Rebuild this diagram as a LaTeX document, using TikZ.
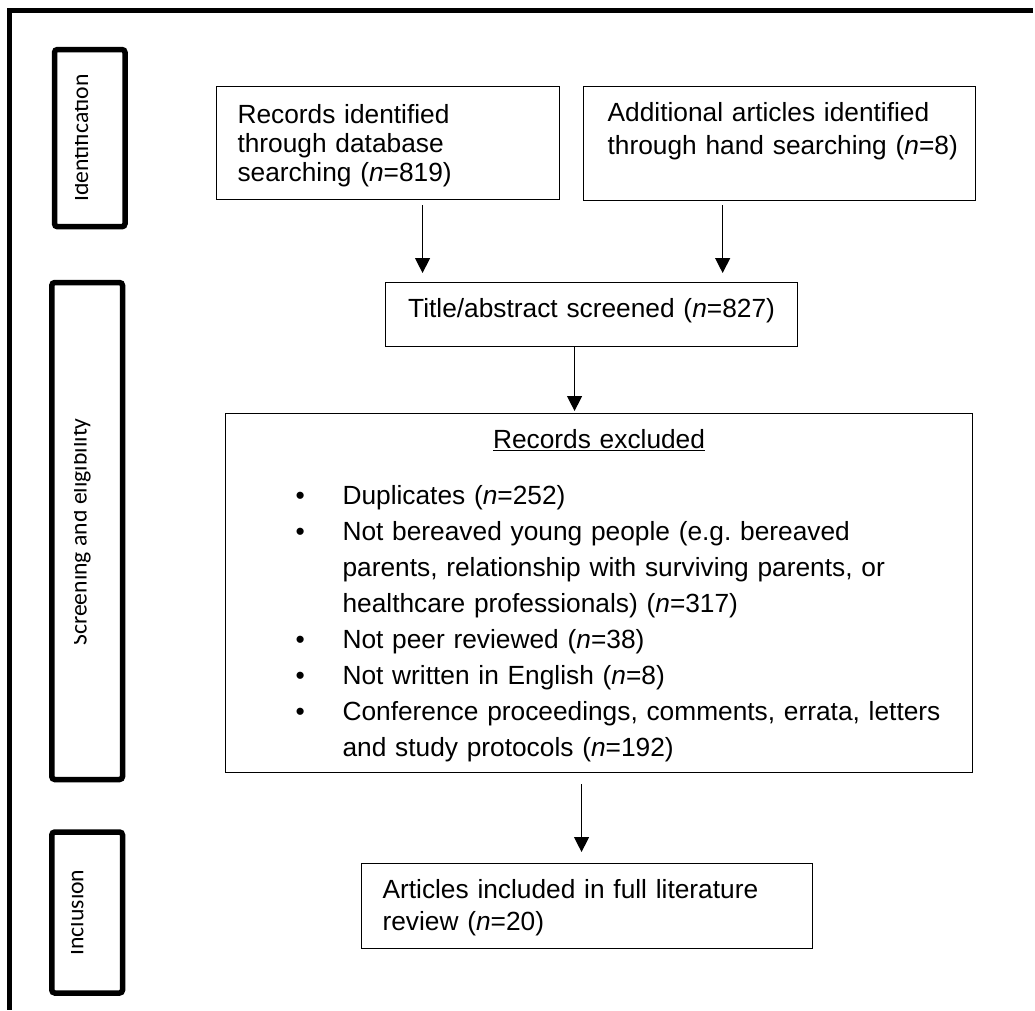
\documentclass[tikz,border=0pt]{standalone}
\usepackage{fontspec}
\setmainfont{Liberation Sans}
\newfontfamily\stagefont{Carlito}
\usetikzlibrary{arrows.meta,positioning}
\frenchspacing

% invisible struts that set the padding above the first line / below the last
\newcommand{\padtop}[1]{\rule{0pt}{#1}}
\newcommand{\padbot}[1]{\rule[-#1]{0pt}{#1}}
\newcommand{\bul}{\hspace*{50pt}\makebox[47pt][l]{\textbullet}}
\newcommand{\ind}{\hspace*{97pt}}

\tikzset{
  box/.style={draw, line width=1.1pt, anchor=north west, align=left,
    inner xsep=21pt, inner ysep=0pt, font=\fontsize{26.3}{29}\selectfont},
  stagebox/.style={draw, line width=5.5pt, rounded corners=3pt},
  stagelabel/.style={rotate=90, anchor=base, font=\stagefont\fontsize{23.7}{26}\selectfont},
  arrow/.style={-{Triangle[width=15pt,length=15pt]}, line width=1.3pt},
}

\begin{document}
\begin{tikzpicture}[x=1pt,y=1pt]
	\useasboundingbox (0,0) rectangle (1035,-1010);

	% outer frame
	\draw[line width=5pt] (1033,-10.8) -- (9.2,-10.8) -- (9.2,-1010);

	% stages
	\node[stagebox, minimum width=70.5pt, minimum height=177.2pt] (ident) at (89.75,-138.1) {};
	\node[stagebox, minimum width=70.7pt, minimum height=497pt] (screen) at (87.15,-531) {};
	\node[stagebox, minimum width=70.7pt, minimum height=161pt] (incl) at (87.15,-912.5) {};

	\begin{scope}
		\clip (75.5,-52) rectangle (122,-224);
		\node[stagelabel] at (88,-138.1) {Identification};
	\end{scope}
	\begin{scope}
		\clip (74.2,-285) rectangle (120,-777);
		\node[stagelabel] at (86.7,-532) {Screening and eligibility};
	\end{scope}
	\begin{scope}
		\clip (71,-835) rectangle (120,-990);
		\node[stagelabel] at (83.3,-912.5) {Inclusion};
	\end{scope}

	% flow boxes
	\node[box, text width=301pt] (records) at (216,-86)
		{\padtop{37pt}Records identified\\through database\\searching (\textit{n}=819)\padbot{18pt}};
	\node[box, text width=344pt, inner xsep=24pt, font=\fontsize{26.3}{33}\selectfont,
		right=23pt of records.north east, anchor=north west] (additional)
		{\padtop{35pt}Additional articles identified\\\mbox{through hand searching (\textit{n}=8)}\padbot{46pt}};
	\node[box, text width=370pt, align=center] (screened) at (385,-282)
		{\padtop{35pt}Title/abstract screened (\textit{n}=827)\padbot{29pt}};
	\node[box, text width=707pt, inner xsep=20pt, font=\fontsize{26.3}{36}\selectfont] (excluded) at (225,-413)
		{\makebox[707pt][c]{\padtop{35pt}\underline{Records excluded}}\\[20pt]
		\bul Duplicates (\textit{n}=252)\\
		\bul Not bereaved young people (e.g. bereaved\\
		\ind parents, relationship with surviving parents, or\\
		\ind healthcare professionals) (\textit{n}=317)\\
		\bul Not peer reviewed (\textit{n}=38)\\
		\bul Not written in English (\textit{n}=8)\\
		\bul Conference proceedings, comments, errata, letters\\
		\ind and study protocols (\textit{n}=192)\padbot{16pt}};
	\node[box, text width=409pt, font=\fontsize{26.3}{32}\selectfont] (included) at (361,-863)
		{\padtop{35pt}Articles included in full literature\\review (\textit{n}=20)\padbot{18pt}};

	% arrows
	\draw[arrow, shorten <=5pt, shorten >=9pt] ([xshift=34.5pt]records.south) -- ([xshift=34.5pt]records.south |- screened.north);
	\draw[arrow, shorten <=4pt, shorten >=9pt] ([xshift=-57pt]additional.south) -- ([xshift=-57pt]additional.south |- screened.north);
	\draw[arrow, shorten >=2pt] ([xshift=-17pt]screened.south) -- ([xshift=-17pt]screened.south |- excluded.north);
	\draw[arrow, shorten <=11pt, shorten >=11pt] ([xshift=-17.5pt]excluded.south) -- ([xshift=-17.5pt]excluded.south |- included.north);
\end{tikzpicture}
\end{document}
